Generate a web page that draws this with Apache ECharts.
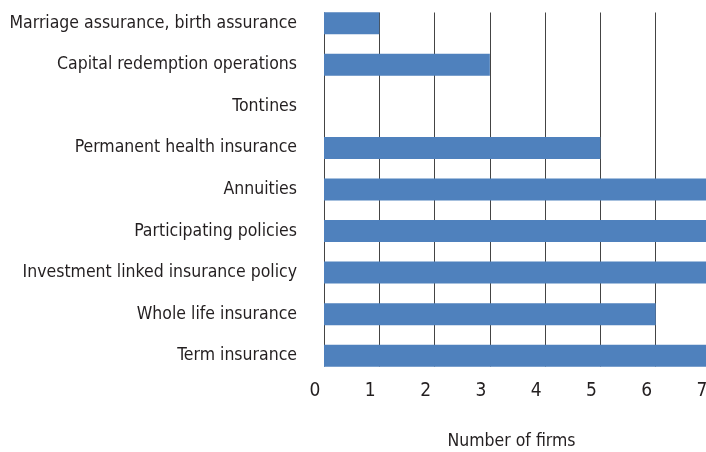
<!DOCTYPE html>
<html>
<head>
<meta charset="utf-8">
<script src="https://cdn.jsdelivr.net/npm/echarts@6/dist/echarts.min.js"></script>
<style>
html,body{margin:0;padding:0;background:#fff;}
#chart{width:706px;height:452px;}
</style>
</head>
<body>
<div id="chart"></div>
<script>
const categories = [
  'Term insurance',
  'Whole life insurance',
  'Investment linked insurance policy',
  'Participating policies',
  'Annuities',
  'Permanent health insurance',
  'Tontines',
  'Capital redemption operations',
  'Marriage assurance, birth assurance'
];
const firms = [7, 6, 7, 7, 7, 5, 0, 3, 1];
const xMin = 0, xMax = 7, xStep = 1;
const xTitle = 'Number of firms';

const FONT = '"DejaVu Sans Condensed", "Liberation Sans", sans-serif';
const TXT = '#231f20';
const chart = echarts.init(document.getElementById('chart'), null, {renderer: 'canvas'});
chart.setOption({
  animation: false,
  backgroundColor: '#ffffff',
  grid: [
    {left: 324, width: 387, top: 2.5, bottom: 75.5, containLabel: false, outerBoundsMode: 'none'},
    {left: 324, width: 387, top: 12.5, bottom: 85.5, containLabel: false, outerBoundsMode: 'none'}
  ],
  xAxis: [
    {
      type: 'value', gridIndex: 0, min: xMin, max: xMax, interval: xStep,
      axisLine: {show: false}, axisTick: {show: false}, splitLine: {show: false},
      axisLabel: {color: TXT, fontFamily: FONT, fontSize: 19, margin: 5, padding: [0, 18, 0, 0], hideOverlap: false},
      name: xTitle, nameLocation: 'middle', nameGap: 56,
      nameTextStyle: {color: TXT, fontFamily: FONT, fontSize: 17.5, padding: [0, 12, 0, 0]}
    },
    {
      type: 'value', gridIndex: 1, min: xMin, max: xMax, interval: xStep,
      axisLine: {show: false}, axisTick: {show: false}, axisLabel: {show: false},
      splitLine: {show: true, lineStyle: {color: '#444444', width: 1}}
    }
  ],
  yAxis: [
    {
      type: 'category', gridIndex: 0, data: categories,
      axisLine: {show: false}, axisTick: {show: false},
      axisLabel: {color: TXT, fontFamily: FONT, fontSize: 17.5, margin: 27}
    },
    {
      type: 'category', gridIndex: 1, data: categories, show: false
    }
  ],
  series: [
    {
      type: 'bar', xAxisIndex: 0, yAxisIndex: 0, data: firms,
      barWidth: 22,
      itemStyle: {color: '#4F81BD'}
    }
  ]
});
</script>
</body>
</html>
